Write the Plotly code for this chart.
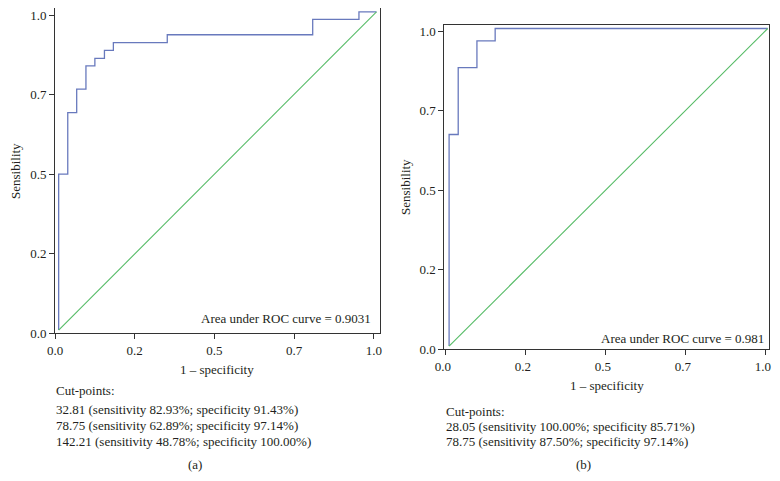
import plotly.graph_objects as go
from plotly.subplots import make_subplots

# ROC curve (a): vertices of the step curve
fpr_a = [0.0115, 0.0115, 0.040, 0.068, 0.097, 0.125, 0.155, 0.183, 0.352, 0.808, 0.953, 1.008]
tpr_a = [0.010, 0.500, 0.693, 0.767, 0.840, 0.864, 0.889, 0.913, 0.938, 0.986, 1.010, 1.010]
ref_a_x = [0.0115, 1.008]
ref_a_y = [0.010, 1.010]

# ROC curve (b)
fpr_b = [0.010, 0.010, 0.0385, 0.097, 0.154, 1.006]
tpr_b = [0.010, 0.675, 0.885, 0.969, 1.008, 1.008]
ref_b_x = [0.010, 1.006]
ref_b_y = [0.010, 1.008]

tick_vals = [0, 0.25, 0.5, 0.75, 1.0]
tick_text = ["0.0", "0.2", "0.5", "0.7", "1.0"]

auc_a = "Area under ROC curve = 0.9031"
auc_b = "Area under ROC curve = 0.981"

cut_a = ["Cut-points:",
         "32.81 (sensitivity 82.93%; specificity 91.43%)",
         "78.75 (sensitivity 62.89%; specificity 97.14%)",
         "142.21 (sensitivity 48.78%; specificity 100.00%)"]
cut_b = ["Cut-points:",
         "28.05 (sensitivity 100.00%; specificity 85.71%)",
         "78.75 (sensitivity 87.50%; specificity 97.14%)"]

BLUE = "#6879bd"
GREEN = "#55bb66"
FONT = "Liberation Serif"
TXT = "#231f20"
OFF = 8  # the page body has an 8px margin all round; keep the figure inside the window
W, H = 780 - 2 * OFF, 481 - 2 * OFF

fig = make_subplots(rows=1, cols=2)

fig.add_trace(go.Scatter(x=fpr_a, y=tpr_a, mode="lines", line=dict(color=BLUE, width=1.3, shape="hv")), 1, 1)
fig.add_trace(go.Scatter(x=ref_a_x, y=ref_a_y, mode="lines", line=dict(color=GREEN, width=1.1)), 1, 1)
fig.add_trace(go.Scatter(x=fpr_b, y=tpr_b, mode="lines", line=dict(color=BLUE, width=1.3, shape="hv")), 1, 2)
fig.add_trace(go.Scatter(x=ref_b_x, y=ref_b_y, mode="lines", line=dict(color=GREEN, width=1.1)), 1, 2)

axis_common = dict(
    tickvals=tick_vals, ticktext=tick_text, ticks="outside", ticklen=5,
    tickcolor="#333", tickwidth=1, showline=True, mirror=True,
    linecolor="#333", linewidth=1, showgrid=False, zeroline=False,
    automargin=False, ticklabeloverflow="allow",
    tickfont=dict(family=FONT, size=13, color=TXT),
)


def px(x):
    return (x - OFF) / W


def py(y):
    return 1 - (y - OFF) / H


fig.update_xaxes(axis_common, domain=[px(55), px(380)], range=[0, 1.019], row=1, col=1)
fig.update_yaxes(axis_common, domain=[py(333.3), py(8)], range=[0, 1.022], row=1, col=1)
# nudge panel (b) x labels a little so the "1.0" at the right edge stays in the window
fig.update_xaxes(axis_common, domain=[px(444.3), px(769.3)], range=[-0.005, 1.011],
                 ticklabelshift=-3, row=1, col=2)
fig.update_yaxes(axis_common, domain=[py(349.3), py(25)], range=[0, 1.019], row=1, col=2)

ann = []
f13 = dict(family=FONT, size=13, color=TXT)

# AUC labels inside the plot areas
ann.append(dict(x=0.997, y=0.045, xref="x", yref="y", text=auc_a, showarrow=False,
                xanchor="right", yanchor="middle", font=f13))
ann.append(dict(x=1.001, y=0.033, xref="x2", yref="y2", text=auc_b, showarrow=False,
                xanchor="right", yanchor="middle", font=f13))

# axis titles
for cx, cy in [(217, 369), (607, 385)]:
    ann.append(dict(x=px(cx), y=py(cy), xref="paper", yref="paper", text="1 \u2013 specificity",
                    showarrow=False, xanchor="center", yanchor="middle", font=f13))
for cx, cy in [(15, 171), (405, 187)]:
    ann.append(dict(x=px(cx), y=py(cy), xref="paper", yref="paper", text="Sensibility",
                    showarrow=False, xanchor="center", yanchor="middle", textangle=-90, font=f13))

# cut-points text
for line, cy in zip(cut_a, [390.5, 409, 425, 441]):
    ann.append(dict(x=px(54), y=py(cy), xref="paper", yref="paper", text=line,
                    showarrow=False, xanchor="left", yanchor="middle", font=f13))
for line, cy in zip(cut_b, [411.5, 426.7, 441.7]):
    ann.append(dict(x=px(443.5), y=py(cy), xref="paper", yref="paper", text=line,
                    showarrow=False, xanchor="left", yanchor="middle", font=f13))

# panel labels
ann.append(dict(x=px(195), y=py(464.5), xref="paper", yref="paper", text="(a)",
                showarrow=False, xanchor="center", yanchor="middle", font=f13, borderpad=0))
ann.append(dict(x=px(583), y=py(464.5), xref="paper", yref="paper", text="(b)",
                showarrow=False, xanchor="center", yanchor="middle", font=f13, borderpad=0))

fig.update_layout(
    width=W, height=H, margin=dict(l=0, r=0, t=0, b=0),
    paper_bgcolor="white", plot_bgcolor="white",
    showlegend=False, annotations=ann,
    font=dict(family=FONT, size=13, color=TXT),
)

fig.write_html("out.html")
